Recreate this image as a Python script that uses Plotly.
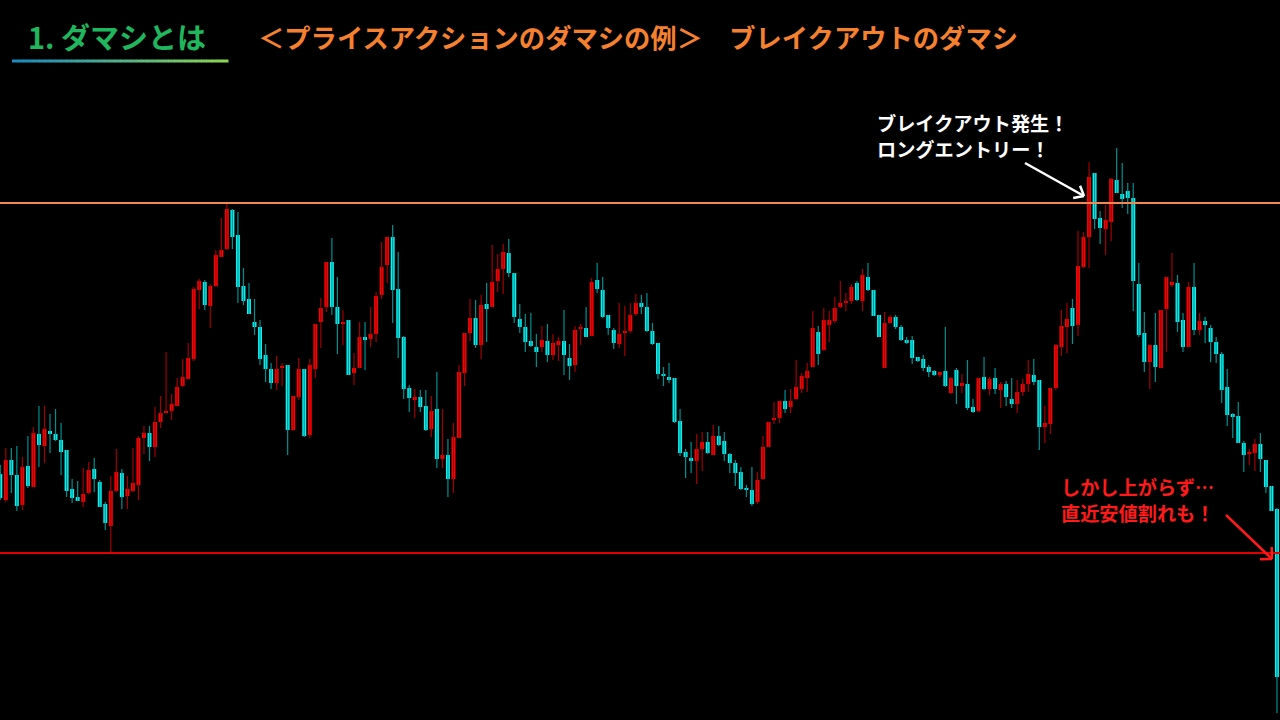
import math
import plotly.graph_objects as go

# ---- data (price points) ----
open_ = [246,220,260,245,215,254,233,286,274,289,
         286,280,270,231,223,218,227,251,238,216,
         194,229,247,224,229,235,282,287,273,298,
         307,309,314,334,341,361,430,438,414,434,
         463,471,510,485,434,421,398,393,365,351,
         337,352,355,290,323,351,285,351,398,413,
         458,413,396,400,347,352,383,381,386,425,
         455,483,431,383,332,320,323,314,291,311,
         261,265,241,282,347,387,402,375,416,413,
         439,451,467,447,401,393,379,373,373,379,
         365,375,379,362,355,391,392,384,440,430,
         405,390,376,387,389,406,417,413,389,377,
         346,343,342,299,268,262,259,271,278,265,
         284,279,266,257,248,232,230,218,241,273,
         300,302,319,313,321,331,342,353,388,370,
         395,399,413,417,419,437,419,443,430,405,
         352,397,403,393,380,380,363,361,353,349,
         345,349,327,350,334,336,313,309,343,331,
         342,330,336,321,316,328,336,345,340,293,
         296,332,373,393,412,395,453,483,547,502,
         491,498,540,526,529,522,436,387,358,375,
         352,411,435,437,400,373,433,390,399,392,
         378,366,333,306,304,277,266,267,276,260,
         234,211]
high = [255,272,272,274,263,284,293,314,314,306,
        311,297,270,241,239,252,258,262,240,218,
        244,271,251,244,272,284,294,294,313,324,
        368,326,342,361,377,433,441,440,436,470,
        502,516,511,508,452,437,421,400,376,357,
        364,357,355,324,362,351,361,396,422,458,
        482,443,410,400,367,398,398,413,428,478,
        483,495,468,384,335,331,330,330,324,348,
        311,281,297,355,387,421,420,425,437,475,
        466,476,481,447,416,406,407,386,394,396,
        386,383,410,376,394,396,413,442,457,443,
        405,392,417,414,417,426,425,427,397,377,
        353,357,342,311,271,278,286,288,288,295,
        294,288,267,260,253,235,253,248,284,298,
        318,319,330,331,360,347,357,409,394,412,
        409,423,439,427,436,439,451,457,430,405,
        408,405,405,395,383,384,363,365,355,350,
        348,393,343,352,346,360,321,342,363,343,
        352,338,339,342,340,341,360,361,340,314,
        332,376,410,417,421,489,488,558,547,509,
        515,542,572,557,537,537,457,408,375,407,
        410,443,467,445,407,438,457,407,403,395,
        383,368,351,307,318,279,271,281,287,260,
        234,212]
low = [220,218,227,209,210,232,233,253,257,267,
       279,245,223,217,219,213,226,228,213,190,
       168,228,211,211,228,220,266,259,263,292,
       307,300,314,333,341,359,411,410,392,433,
       463,470,471,417,415,406,385,355,338,331,
       330,334,265,289,320,283,282,342,372,408,
       405,366,375,345,335,352,350,373,378,421,
       437,397,362,321,308,302,308,289,283,252,
       252,223,227,282,334,379,372,361,378,413,
       428,426,443,397,387,368,373,353,368,358,
       360,359,345,340,348,375,383,384,427,402,
       385,371,372,364,387,404,406,388,375,341,
       334,337,297,264,242,247,236,249,266,265,
       274,259,247,234,230,223,214,216,240,273,
       296,297,307,307,320,327,328,353,355,369,
       378,397,412,409,416,419,409,429,404,383,
       352,397,391,379,376,356,358,349,343,344,
       343,333,326,316,327,310,307,308,330,325,
       326,312,314,312,307,324,328,335,270,277,
       286,330,364,367,376,384,452,452,491,476,
       465,479,527,512,506,409,383,348,331,338,
       352,368,433,388,368,373,385,385,377,358,
       357,317,294,282,277,248,255,249,248,227,
       209,7]
close = [222,260,245,214,253,234,287,275,291,286,
         280,268,229,222,219,226,250,241,213,197,
         229,248,223,231,237,282,287,273,298,307,
         309,316,333,343,362,431,439,415,434,465,
         470,511,483,433,419,406,393,361,351,337,
         351,354,290,324,351,284,355,396,412,458,
         413,396,398,345,352,383,380,386,424,453,
         483,430,382,331,322,323,313,290,309,261,
         265,241,283,348,387,402,375,415,411,438,
         451,468,447,403,393,378,374,368,380,365,
         377,379,365,354,390,393,383,438,431,403,
         392,377,386,389,405,417,413,389,376,346,
         344,340,298,267,263,259,271,278,267,284,
         275,266,257,247,231,230,216,240,273,298,
         302,319,311,319,333,344,349,392,366,400,
         400,412,417,419,433,420,445,430,404,383,
         397,403,393,380,377,362,359,352,348,345,
         348,334,342,334,337,312,308,342,331,341,
         331,336,323,316,328,336,346,338,293,297,
         332,375,394,401,394,454,483,543,501,492,
         500,541,527,521,522,439,385,358,375,353,
         410,443,438,398,373,433,390,399,395,378,
         366,330,305,303,277,265,268,276,261,233,
         209,43]
resistance_level = 517
support_level = 167

title_main = "1. ダマシとは"
title_sub = "＜プライスアクションのダマシの例＞　ブレイクアウトのダマシ"
note_break_lines = ["ブレイクアウト発生！", "ロングエントリー！"]
note_fail_lines = ["しかし上がらず…", "直近安値割れも！"]

# ---- styling ----
W, H = 1280, 720
UP_BODY, DOWN_BODY = "#ff0000", "#00f5f5"
UP_WICK, DOWN_WICK = "#a00000", "#009090"
FONT = "Noto Sans CJK JP"

n = len(open_)
idx = list(range(n))
is_up = [c >= o for o, c in zip(open_, close)]

def wick_xy(flag):
    xs, ys = [], []
    for i in idx:
        if is_up[i] == flag:
            xs += [i, i, None]
            ys += [low[i], high[i], None]
    return xs, ys

fig = go.Figure()
for flag, col in ((True, UP_WICK), (False, DOWN_WICK)):
    xs, ys = wick_xy(flag)
    fig.add_trace(go.Scatter(x=xs, y=ys, mode="lines",
                             line=dict(color=col, width=1.2),
                             hoverinfo="skip", showlegend=False))

fig.add_trace(go.Bar(
    x=idx,
    base=[min(o, c) for o, c in zip(open_, close)],
    y=[max(abs(c - o), 1) for o, c in zip(open_, close)],
    width=0.72,
    marker=dict(color=[UP_BODY if u else DOWN_BODY for u in is_up], line=dict(width=0)),
    showlegend=False, hoverinfo="skip"))

shapes = []
shapes.append(dict(type="line", xref="paper", x0=0, x1=1, yref="y",
                   y0=resistance_level, y1=resistance_level,
                   line=dict(color="#f5884f", width=2), layer="above"))
shapes.append(dict(type="line", xref="paper", x0=0, x1=1, yref="y",
                   y0=support_level, y1=support_level,
                   line=dict(color="#e00000", width=2), layer="above"))

def px(x, y):
    return x / W, 1 - y / H

# gradient underline under the section title
c0 = (0x18, 0x8c, 0xc0)
c1 = (0x8c, 0xd6, 0x50)
segs = 40
x_start, x_end, y_line = 12, 228, 61
for k in range(segs):
    t = k / (segs - 1)
    col = "rgb(%d,%d,%d)" % tuple(round(a + (b - a) * t) for a, b in zip(c0, c1))
    xa = x_start + (x_end - x_start) * k / segs
    xb = x_start + (x_end - x_start) * (k + 1) / segs + 0.5
    pa, pb = px(xa, y_line), px(xb, y_line)
    shapes.append(dict(type="line", xref="paper", yref="paper",
                       x0=pa[0], y0=pa[1], x1=pb[0], y1=pb[1],
                       line=dict(color=col, width=3)))

def arrow(x0, y0, x1, y1, color, width=2.5, head=11, spread=40):
    a, b = px(x0, y0), px(x1, y1)
    shapes.append(dict(type="line", xref="paper", yref="paper",
                       x0=a[0], y0=a[1], x1=b[0], y1=b[1],
                       line=dict(color=color, width=width), layer="above"))
    ang = math.atan2(y1 - y0, x1 - x0)
    for s in (-1, 1):
        th = ang + math.pi + s * math.radians(spread)
        hx, hy = x1 + head * math.cos(th), y1 + head * math.sin(th)
        c, d = px(hx, hy), px(x1, y1)
        shapes.append(dict(type="line", xref="paper", yref="paper",
                           x0=c[0], y0=c[1], x1=d[0], y1=d[1],
                           line=dict(color=color, width=width), layer="above"))

arrow(1025, 163, 1084, 196, "#ffffff")
arrow(1226, 515, 1272, 559, "#ff1a1a", head=12, spread=45)

def label(text, x, y, size, color):
    return dict(text="<b>" + text + "</b>", x=x / W, y=1 - y / H, xref="paper", yref="paper",
                xanchor="left", yanchor="middle", align="left", showarrow=False, borderpad=0,
                font=dict(family=FONT, size=size, color=color))

annotations = [
    label(title_main, 27, 36, 29, "#1fb65e"),
    label(title_sub, 257, 36, 26.3, "#f5812f"),
]
for k, t in enumerate(note_break_lines):
    annotations.append(label(t, 876, 123.5 + 25 * k, 19.2, "#ffffff"))
for k, t in enumerate(note_fail_lines):
    annotations.append(label(t, 1060, 486.5 + 26.5 * k, 19.2, "#ff1a1a"))

fig.update_layout(
    width=W, height=H, margin=dict(l=0, r=0, t=0, b=0),
    paper_bgcolor="#000000", plot_bgcolor="#000000",
    xaxis=dict(range=[-0.05, n - 1 + 0.55], visible=False, fixedrange=True),
    yaxis=dict(range=[0, 720], visible=False, fixedrange=True),
    barmode="overlay", showlegend=False,
    shapes=shapes, annotations=annotations,
)

fig.write_html("out.html", config={"displayModeBar": False},
               post_script="document.body.style.margin='0';document.body.style.overflow='hidden';")
